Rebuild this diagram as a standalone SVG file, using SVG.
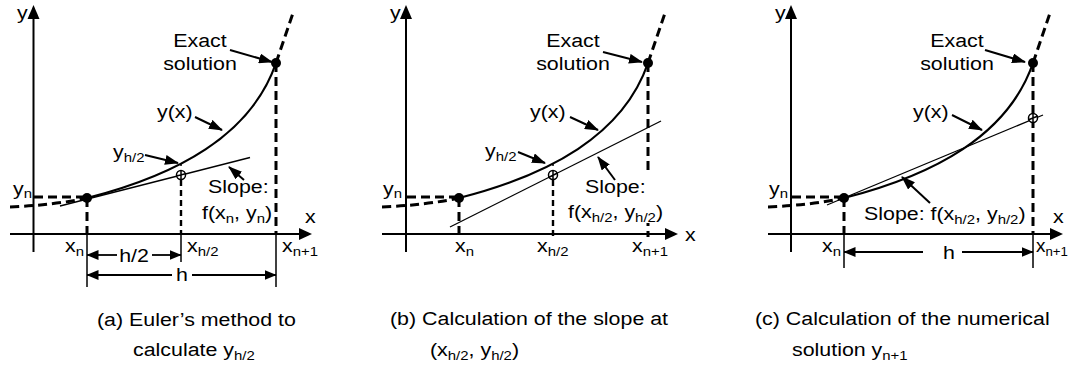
<svg xmlns="http://www.w3.org/2000/svg" width="1070" height="366" viewBox="0 0 1070 366">
<style>
.ax{stroke:#000;stroke-width:2;fill:none}
.cv{stroke:#000;stroke-width:2.2;fill:none}
.tg{stroke:#000;stroke-width:1.3;fill:none}
.dl{stroke:#000;stroke-width:3;stroke-dasharray:9 5;fill:none}
.dt{stroke:#000;stroke-width:2.4;stroke-dasharray:6 4;fill:none}
.sl{stroke:#000;stroke-width:1.5;fill:none}
.pt{stroke:#000;stroke-width:2;fill:none;marker-end:url(#ah)}
.ds{stroke:#000;stroke-width:1.8;fill:none;marker-start:url(#da)}
.de{stroke:#000;stroke-width:1.8;fill:none;marker-end:url(#da)}
text{font-family:"Liberation Sans",Arial,sans-serif;font-size:18.6px;fill:#000}
.s{font-size:13px}
</style>
<defs>
<marker id="ah" viewBox="0 0 14 10" refX="13" refY="5" markerWidth="14" markerHeight="10" markerUnits="userSpaceOnUse" orient="auto"><path d="M0,0 L14,5 L0,10 z" fill="#000"/></marker>
<marker id="da" viewBox="0 0 12 10" refX="11.5" refY="5" markerWidth="12" markerHeight="10" markerUnits="userSpaceOnUse" orient="auto-start-reverse"><path d="M0,0 L12,5 L0,10 z" fill="#000"/></marker>
<path id="curve" d="M87,198 C177,175 251,135.5 276,63"/>
</defs>

<!-- Panel (a) -->
<g id="panel-a">
  <g id="a-axes">
    <path class="ax" d="M33.5,252 V17"/><path d="M33.5,5 L27.5,19 L39.5,19 z"/>
    <path class="ax" d="M10,234 H300"/><path d="M312,234 L299,228 L299,240 z"/>
  </g>
  <g id="a-lines">
    <use href="#curve" class="cv"/>
    <path class="dl" d="M276,63 L293,13"/>
    <path class="dl" d="M34,197 H87"/>
    <path class="dl" d="M10,207 Q55,205 87,198"/>
    <path class="tg" d="M60,206 L250,157.5"/>
    <path class="dl" d="M87,198 V234"/><path class="sl" d="M87,234 V287"/>
    <path class="dt" d="M181,180 V234"/><path class="sl" d="M181,234 V262"/>
    <path class="sl" d="M181,163 V166"/>
    <path class="dl" d="M276,63 V234"/><path class="sl" d="M276,234 V287"/>
  </g>
  <g id="a-points">
    <circle cx="87" cy="198" r="5"/>
    <circle cx="276" cy="63" r="5"/>
    <circle cx="181" cy="175" r="4.5" fill="#fff" stroke="#000" stroke-width="1.5"/>
    <path class="sl" d="M181,170.5 V179.5 M176.5,176.1 L185.5,173.8"/>
  </g>
  <g id="a-connectors">
    <path class="pt" d="M230,50 L272,62"/>
    <path class="pt" d="M195,117 L222,130"/>
    <path class="pt" d="M145,155 L178,163"/>
    <path class="pt" d="M244,180 L229,167"/>
    <path class="ds" d="M87,255 H117"/><path class="de" d="M152,255 H181"/>
    <path class="ds" d="M87,275 H172"/><path class="de" d="M192,275 H276"/>
  </g>
  <g id="a-labels">
    <text transform="translate(17,19) scale(1.15,1)">y</text>
    <text transform="translate(200,47) scale(1.15,1)" text-anchor="middle">Exact</text>
    <text transform="translate(200,70) scale(1.15,1)" text-anchor="middle">solution</text>
    <text transform="translate(157,118) scale(1.15,1)">y(x)</text>
    <text transform="translate(113,158) scale(1.15,1)">y<tspan class="s" dy="4">h/2</tspan></text>
    <text transform="translate(208,193) scale(1.15,1)">Slope:</text>
    <text transform="translate(202,219) scale(1.15,1)">f(x<tspan class="s" dy="4">n</tspan><tspan dy="-4">, y</tspan><tspan class="s" dy="4">n</tspan><tspan dy="-4">)</tspan></text>
    <text transform="translate(305,223) scale(1.15,1)">x</text>
    <text transform="translate(13,195) scale(1.15,1)">y<tspan class="s" dy="3">n</tspan></text>
    <text transform="translate(65,252) scale(1.15,1)">x<tspan class="s" dy="4">n</tspan></text>
    <text transform="translate(187,252) scale(1.15,1)">x<tspan class="s" dy="4">h/2</tspan></text>
    <text transform="translate(282,252) scale(1.15,1)">x<tspan class="s" dy="4">n+1</tspan></text>
    <text transform="translate(134,262) scale(1.15,1)" text-anchor="middle">h/2</text>
    <text transform="translate(182,281) scale(1.15,1)" text-anchor="middle">h</text>
  </g>
  <g id="a-caption">
    <text transform="translate(97,326) scale(1.15,1)">(a) Euler’s method to</text>
    <text transform="translate(133,356) scale(1.15,1)">calculate y<tspan class="s" dy="4">h/2</tspan></text>
  </g>
</g>

<!-- Panel (b) -->
<g id="panel-b" transform="translate(372,0)">
  <g id="b-axes">
    <path class="ax" d="M34,252 V17"/><path d="M34,5 L28,19 L40,19 z"/>
    <path class="ax" d="M10,234 H294"/><path d="M306,234 L293,228 L293,240 z"/>
  </g>
  <g id="b-lines">
    <use href="#curve" class="cv"/>
    <path class="dl" d="M276,63 L293,13"/>
    <path class="dl" d="M35,197 H87"/>
    <path class="dl" d="M10,207 Q55,205 87,198"/>
    <path class="tg" d="M78,227 L289,121"/>
    <path class="dl" d="M87,198 V237"/>
    <path class="dt" d="M181,180 V237"/>
    <path class="sl" d="M181,163 V166"/>
    <path class="dl" d="M276,63 V237"/>
    <rect x="205" y="173" width="84" height="50" fill="#fff"/>
  </g>
  <g id="b-points">
    <circle cx="87" cy="198" r="5"/>
    <circle cx="276" cy="63" r="5"/>
    <circle cx="181" cy="175" r="4.5" fill="#fff" stroke="#000" stroke-width="1.5"/>
    <path class="sl" d="M181,170.5 V179.5 M176.5,177.5 L185.5,173"/>
  </g>
  <g id="b-connectors">
    <path class="pt" d="M231,52 L270,62"/>
    <path class="pt" d="M198,117 L226,130"/>
    <path class="pt" d="M146,152 L173,163"/>
    <path class="pt" d="M243,180 L226,157"/>
  </g>
  <g id="b-labels">
    <text transform="translate(18,19) scale(1.15,1)">y</text>
    <text transform="translate(201,47) scale(1.15,1)" text-anchor="middle">Exact</text>
    <text transform="translate(201,70) scale(1.15,1)" text-anchor="middle">solution</text>
    <text transform="translate(158,118) scale(1.15,1)">y(x)</text>
    <text transform="translate(113,157) scale(1.15,1)">y<tspan class="s" dy="4">h/2</tspan></text>
    <text transform="translate(213,193) scale(1.15,1)">Slope:</text>
    <text transform="translate(196,218) scale(1.15,1)">f(x<tspan class="s" dy="4">h/2</tspan><tspan dy="-4">, y</tspan><tspan class="s" dy="4">h/2</tspan><tspan dy="-4">)</tspan></text>
    <text transform="translate(313,241) scale(1.15,1)">x</text>
    <text transform="translate(11,195) scale(1.15,1)">y<tspan class="s" dy="3">n</tspan></text>
    <text transform="translate(83,252) scale(1.15,1)">x<tspan class="s" dy="4">n</tspan></text>
    <text transform="translate(165,252) scale(1.15,1)">x<tspan class="s" dy="4">h/2</tspan></text>
    <text transform="translate(260,252) scale(1.15,1)">x<tspan class="s" dy="4">n+1</tspan></text>
  </g>
  <g id="b-caption">
    <text transform="translate(18,325) scale(1.15,1)">(b) Calculation of the slope at</text>
    <text transform="translate(58,356) scale(1.15,1)">(x<tspan class="s" dy="4">h/2</tspan><tspan dy="-4">, y</tspan><tspan class="s" dy="4">h/2</tspan><tspan dy="-4">)</tspan></text>
  </g>
</g>

<!-- Panel (c) -->
<g id="panel-c" transform="translate(757,0)">
  <g id="c-axes">
    <path class="ax" d="M34,252 V17"/><path d="M34,5 L28,19 L40,19 z"/>
    <path class="ax" d="M11,234 H294"/><path d="M306,234 L293,228 L293,240 z"/>
  </g>
  <g id="c-lines">
    <use href="#curve" class="cv"/>
    <path class="dl" d="M276,63 L293,13"/>
    <path class="dl" d="M35,197 H87"/>
    <path class="dl" d="M11,207 Q55,205 87,198"/>
    <path class="tg" d="M70,205 L286,115"/>
    <path class="dl" d="M87,198 V234"/><path class="sl" d="M87,234 V268"/>
    <path class="dl" d="M276,63 V234"/><path class="sl" d="M276,234 V268"/>
  </g>
  <g id="c-points">
    <circle cx="87" cy="198" r="5"/>
    <circle cx="276" cy="63" r="5"/>
    <circle cx="276" cy="118" r="4.5" fill="#fff" stroke="#000" stroke-width="1.5"/>
    <path class="sl" d="M271,120 L281,116 M276,113.5 V122.5"/>
  </g>
  <g id="c-connectors">
    <path class="pt" d="M228,50 L268,62"/>
    <path class="pt" d="M195,115 L225,130"/>
    <path class="pt" d="M173,203 L145,177"/>
    <path class="ds" d="M87,252 H166"/><path class="de" d="M205,252 H276"/>
  </g>
  <g id="c-labels">
    <text transform="translate(18,19) scale(1.15,1)">y</text>
    <text transform="translate(200,47) scale(1.15,1)" text-anchor="middle">Exact</text>
    <text transform="translate(200,70) scale(1.15,1)" text-anchor="middle">solution</text>
    <text transform="translate(156,118) scale(1.15,1)">y(x)</text>
    <text transform="translate(107,220) scale(1.15,1)">Slope: f(x<tspan class="s" dy="4">h/2</tspan><tspan dy="-4">, y</tspan><tspan class="s" dy="4">h/2</tspan><tspan dy="-4">)</tspan></text>
    <text transform="translate(296,223) scale(1.15,1)">x</text>
    <text transform="translate(12,195) scale(1.15,1)">y<tspan class="s" dy="3">n</tspan></text>
    <text transform="translate(65,252) scale(1.15,1)">x<tspan class="s" dy="4">n</tspan></text>
    <text transform="translate(279,252) scale(1.02,1)">x<tspan class="s" dy="4">n+1</tspan></text>
    <text transform="translate(192,259) scale(1.15,1)" text-anchor="middle">h</text>
  </g>
  <g id="c-caption">
    <text transform="translate(-2,325) scale(1.15,1)">(c) Calculation of the numerical</text>
    <text transform="translate(35,356) scale(1.15,1)">solution y<tspan class="s" dy="4">n+1</tspan></text>
  </g>
</g>
</svg>
